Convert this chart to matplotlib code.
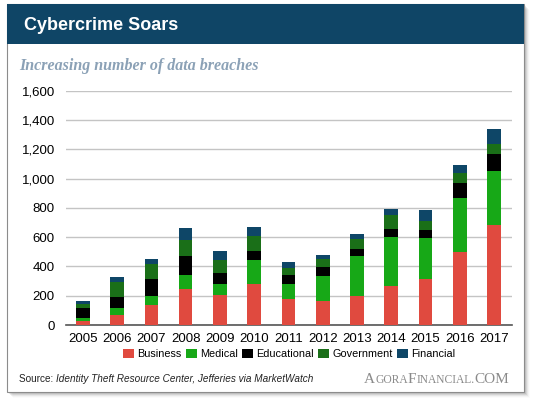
import numpy as np
import matplotlib.pyplot as plt
from matplotlib.patches import Rectangle
from matplotlib.ticker import FuncFormatter

years = ['2005', '2006', '2007', '2008', '2009', '2010', '2011', '2012', '2013',
         '2014', '2015', '2016', '2017']
categories = ['Business', 'Medical', 'Educational', 'Government', 'Financial']
business = [27, 68, 136, 243, 207, 278, 177, 164, 200, 268, 316, 498, 683]
medical = [21, 50, 64, 96, 71, 163, 105, 173, 273, 333, 278, 371, 370]
educational = [68, 73, 112, 134, 75, 64, 61, 61, 46, 54, 54, 98, 114]
government = [25, 100, 102, 109, 93, 105, 48, 52, 66, 93, 64, 73, 68]
financial = [23, 37, 36, 78, 57, 57, 37, 25, 38, 41, 73, 50, 103]
colors = ['#e04a3f', '#17a817', '#000000', '#1a6f18', '#0e4667']

W, H = 540, 405
fig = plt.figure(figsize=(5.4, 4.05), dpi=100)
fig.patch.set_facecolor('white')

def fx(px):
    return px / W

def fy(py):
    return 1 - py / H

# card shadow
for i, a in enumerate([0.12, 0.09, 0.07, 0.05, 0.03, 0.015]):
    d = 1 + i
    fig.patches.append(Rectangle((fx(7 + d), fy(392 + d)), fx(524 - 7), (392 - 4) / H,
                                 transform=fig.transFigure, facecolor='black',
                                 alpha=a, edgecolor='none', zorder=0))
# card
fig.patches.append(Rectangle((fx(7), fy(392)), fx(524 - 7), (392 - 4) / H,
                             transform=fig.transFigure, facecolor='white',
                             edgecolor='#8c8c8c', linewidth=0.8, zorder=1))
# header
fig.patches.append(Rectangle((fx(7), fy(44)), fx(524 - 7), (44 - 4) / H,
                             transform=fig.transFigure, facecolor='#0f4566',
                             edgecolor='none', zorder=2))
fig.text(fx(24), fy(25), 'Cybercrime Soars', color='white', fontsize=13,
         fontweight='bold', family='Liberation Sans', va='center', ha='left', zorder=3)
fig.text(fx(19), fy(66), 'Increasing number of data breaches', color='#8ba1b6',
         fontsize=11.5, fontweight='bold', style='italic', family='Liberation Serif',
         va='center', ha='left', zorder=3)

ax = fig.add_axes([fx(66), fy(325), fx(512 - 66), (325 - 90.7) / H], zorder=4)
ax.set_facecolor('none')
x = np.arange(len(years))
bottom = np.zeros(len(years))
series = [business, medical, educational, government, financial]
for name, vals, c in zip(categories, series, colors):
    ax.bar(x, vals, 0.4, bottom=bottom, color=c, label=name, edgecolor='none', zorder=3)
    bottom += np.array(vals)

ax.set_ylim(0, 1600)
ax.set_yticks(np.arange(0, 1601, 200))
ax.yaxis.set_major_formatter(FuncFormatter(lambda v, p: f'{int(v):,}'))
ax.set_xlim(-0.49, 12.52)
ax.set_xticks(x)
ax.set_xticklabels(years)
ax.grid(axis='y', color='#c4c4c4', linewidth=1, zorder=0)
for s in ['left', 'right', 'top']:
    ax.spines[s].set_visible(False)
ax.spines['bottom'].set_color('#555555')
ax.spines['bottom'].set_linewidth(1.2)
ax.tick_params(length=0, labelsize=9.5, pad=6)
for lab in ax.get_xticklabels() + ax.get_yticklabels():
    lab.set_family('Liberation Sans')
ax.tick_params(axis='y', pad=8)

leg = fig.legend(*ax.get_legend_handles_labels(), loc='center', ncol=5,
                 bbox_to_anchor=(fx(289), fy(354)), frameon=False,
                 prop={'family': 'Liberation Sans', 'size': 7.8},
                 handlelength=1.0, handleheight=1.0, handletextpad=0.3,
                 columnspacing=0.4, borderpad=0)

src = fig.text(fx(19), fy(379), 'Source: ', fontsize=7.2, family='Liberation Sans',
               va='center', ha='left', zorder=5, color='#222222')
fig.canvas.draw()
ann = plt.annotate('Identity Theft Resource Center, Jefferies via MarketWatch',
                   xy=(1, fy(379)), xycoords=(src, 'figure fraction'),
                   fontsize=7.2, family='Liberation Sans', style='italic',
                   va='center', ha='left', color='#222222', annotation_clip=False)

# small caps brand text
pieces = [('A', 11), ('GORA', 8.3), ('F', 11), ('INANCIAL.', 8.3), ('COM', 11)]
prev = fig.text(fx(364), fy(383), pieces[0][0], fontsize=pieces[0][1],
                family='Liberation Serif', color='#8a8a8a', va='baseline', ha='left')
for t, s in pieces[1:]:
    fig.canvas.draw()
    prev = plt.annotate(t, xy=(1, fy(383)), xycoords=(prev, 'figure fraction'),
                        fontsize=s, family='Liberation Serif', color='#8a8a8a',
                        va='baseline', ha='left', annotation_clip=False)

fig.savefig('out.png', dpi=100)
